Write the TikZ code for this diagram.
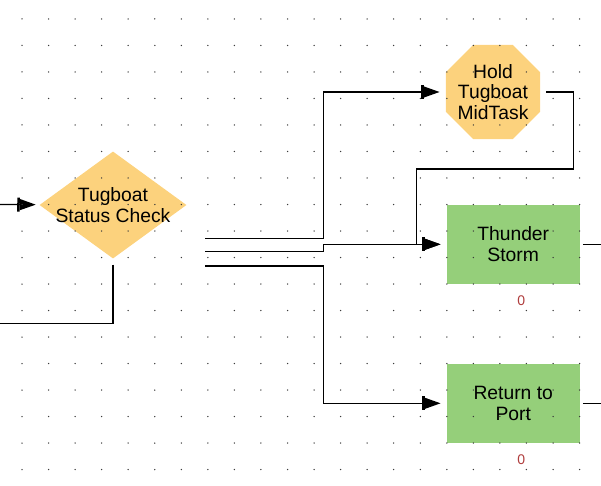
\documentclass[tikz,border=0pt]{standalone}
\usepackage{fontspec}
\setmainfont{Liberation Sans}
\usetikzlibrary{positioning, arrows.meta, shapes.geometric}

\definecolor{decidefill}{RGB}{252,210,125}
\definecolor{processfill}{RGB}{149,207,122}
\definecolor{dotgray}{RGB}{60,60,60}
\definecolor{countred}{RGB}{175,60,60}

\begin{document}
\begin{tikzpicture}[x=1pt, y=-1pt,
    wire/.style={draw=black, line width=1.3pt},
    flow/.style={wire, -{Bar[width=14pt,line width=2.5pt,sep=0pt]Triangle[length=16pt,width=11pt]}, shorten >=6pt},
    boxtext/.style={font=\fontsize{19.3}{20.7}\selectfont, align=center, text=black},
    decidebox/.style={boxtext, diamond, fill=decidefill, aspect=1.374, inner xsep=-18pt, inner ysep=-6pt, minimum width=147pt, minimum height=107pt},
    holdshape/.style={boxtext, regular polygon, regular polygon sides=8, fill=decidefill, inner sep=-2pt, minimum size=100.7pt},
    procbox/.style={boxtext, rectangle, fill=processfill, inner sep=0pt, minimum width=132.8pt, minimum height=79.5pt},
    counter/.style={font=\fontsize{14}{14}\selectfont, text=countred, inner sep=1pt}]

  \useasboundingbox (0,0) rectangle (601,486);

  % Draw shapes
  \node (check) [decidebox] at (113,205) {Tugboat\\Status Check};
  \node (hold) [holdshape] at (493,92) {Hold\\Tugboat\\MidTask};
  \node (thunder) [procbox] at (513.2,244.3) {Thunder\\Storm};
  \node (port) [procbox] at (513.2,403.3) {Return to\\Port};
  \node (thundercount) [counter, below=10pt of thunder, xshift=8pt] {0};
  \node (portcount) [counter, below=10pt of port, xshift=8pt] {0};

  % Free ends and split points
  \coordinate (enter) at (0,204.5);
  \coordinate (leave) at (0,323.3);
  \coordinate (thunderexit) at (601,244.3);
  \coordinate (portexit) at (601,403.3);
  \coordinate (split1) at ([shift={(18.5,33.3)}]check.east);
  \coordinate (split2) at ([shift={(18.5,46.7)}]check.east);
  \coordinate (split3) at ([shift={(18.5,61)}]check.east);

  % Draw arrows
  \draw[flow, shorten >=4pt] (enter) -- (check);
  \draw[wire, shorten <=6pt] (check.south) |- (leave);
  \draw[flow] (split1) -- ++(118,0) |- (hold);
  \draw[flow] (split2) -- ++(118,0) |- (thunder);
  \draw[flow] (split3) -- ++(118,0) |- (port);
  \draw[flow, shorten <=6pt] (hold.east) -- ++(33,0) -- ++(0,77) -- ++(-157,0) |- (thunder);
  \draw[wire, shorten <=3pt] (thunder.east) -- (thunderexit);
  \draw[wire, shorten <=3pt] (port.east) -- (portexit);

  % Grid dots
  \foreach \i in {0,...,21}
    \foreach \j in {0,...,17}
      \fill[dotgray] ({22+26.55*\i},{19+26.5*\j}) circle[radius=0.75pt];

\end{tikzpicture}
\end{document}
